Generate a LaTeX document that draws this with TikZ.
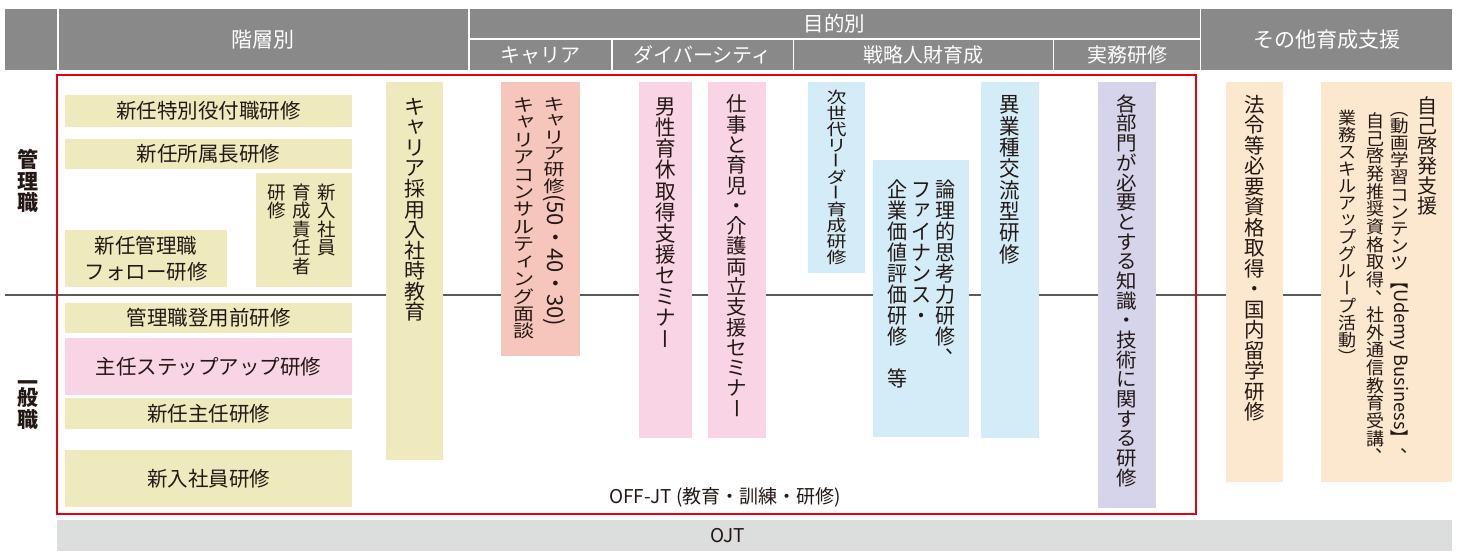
\documentclass[tikz,border=0pt]{standalone}
\usepackage{fontspec}
\usepackage{graphicx}
\usetikzlibrary{calc}
\setmainfont{Noto Sans CJK JP}
\newfontfamily\yoko{Noto Sans CJK JP}
\definecolor{cHdr}{HTML}{898989}
\definecolor{cTan}{HTML}{EFEABD}
\definecolor{cPink}{HTML}{F8D4E4}
\definecolor{cSalmon}{HTML}{F6C6BC}
\definecolor{cBlue}{HTML}{D4EBF8}
\definecolor{cLav}{HTML}{D5D4EB}
\definecolor{cPeach}{HTML}{FCE7CF}
\definecolor{cOjt}{HTML}{DCDDDD}
\definecolor{cRed}{HTML}{E60012}
\definecolor{cLine}{HTML}{595959}
\definecolor{cTxt}{HTML}{231815}
\newcommand\fs[1]{\fontsize{#1}{#1}\selectfont}
% ---- vertical (tategaki) stacking ----
\def\vsy{1}
\def\vsEnd{\vsEnd}
\def\vsloop#1{\def\vsTmp{#1}\ifx\vsTmp\vsEnd\else\vchar{#1}\expandafter\vsloop\fi}
\newcommand\vs[2][1]{\def\vsy{#1}\vtop{\offinterlineskip\vsloop#2\vsEnd}}
\def\vcell#1{\hbox to 1em{\hss\scalebox{1}[\vsy]{\vrule height .88em depth .12em width 0pt\relax#1}\hss}}
\def\vchar#1{\ifcsname vm@\detokenize{#1}\endcsname\csname vm@\detokenize{#1}\endcsname\else\vcell{#1}\fi}
\def\vmap#1#2{\expandafter\def\csname vm@\detokenize{#1}\endcsname{#2}}
\def\vshift#1#2#3{\vcell{\raise#2\hbox{\kern#1#3\kern-#1}}}
\def\vrot#1{\vcell{\rotatebox[origin=c]{-90}{\vrule height .88em depth .12em width 0pt\relax#1}}}
\vmap{ー}{\vrot{ー}}
\vmap{（}{\vrot{（}}
\vmap{）}{\vrot{）}}
\vmap{【}{\vrot{【}}
\vmap{】}{\vrot{】}}
\vmap{、}{\vshift{.5em}{.56em}{、}}
\vmap{ャ}{\vshift{.08em}{.12em}{ャ}}
\vmap{ィ}{\vshift{.08em}{.12em}{ィ}}
\vmap{ッ}{\vshift{.08em}{.12em}{ッ}}
\vmap{ョ}{\vshift{.08em}{.12em}{ョ}}
\vmap{ュ}{\vshift{.08em}{.12em}{ュ}}
\vmap{ァ}{\vshift{.08em}{.12em}{ァ}}
\newcommand\vR[1]{\scalebox{1}[\fpeval{1/\vsy}]{\raisebox{.88em}{\rotatebox{-90}{\yoko #1}}}}
\begin{document}
\begin{tikzpicture}[x=1pt,y=-1pt,
  bx/.style={inner sep=0,outer sep=0,anchor=north west,text=cTxt,align=center},
  vt/.style={anchor=north,inner sep=0,outer sep=0,text=cTxt},
  htxt/.style={text=white,inner sep=0},
]
\useasboundingbox (0,0) rectangle (1463,559);
% header
\fill[cHdr] (5,9) rectangle (57,70);
\fill[cHdr] (58.5,9) rectangle (468,70);
\node[htxt,font=\fs{21}] (hKaiso) at (263,40) {階層別};
\fill[cHdr] (469.5,9) rectangle (1199.5,38.5);
\node[htxt,font=\fs{20.5}] (hMokuteki) at (834.5,24) {目的別};
\fill[cHdr] (469.5,40) rectangle (611,70);
\node[htxt,font=\fs{20}] (hCareer) at (540,55) {キャリア};
\fill[cHdr] (612.5,40) rectangle (792.5,70);
\node[htxt,font=\fs{20}] (hDiv) at (702.5,55) {ダイバーシティ};
\fill[cHdr] (794,40) rectangle (1052.5,70);
\node[htxt,font=\fs{20}] (hSen) at (923,55) {戦略人財育成};
\fill[cHdr] (1054,40) rectangle (1199.5,70);
\node[htxt,font=\fs{20}] (hJit) at (1127,55) {実務研修};
\fill[cHdr] (1201,9) rectangle (1452,70);
\node[htxt,font=\fs{21}] (hSonota) at (1326.5,40) {その他育成支援};

% divider line
\coordinate (dL) at (5,295);
\coordinate (dR) at (1452,295);
\draw[cLine,line width=1.3pt] (dL) -- (dR);

% side labels
\node[text=cTxt,font=\bfseries\fontsize{21}{21.5}\selectfont,align=center] (kanri) at (28,181) {管\\理\\職};
\node[text=cTxt,font=\bfseries\fontsize{21}{21.5}\selectfont,align=center] (ippan) at (28,405) {一\\[-6pt]般\\職};

% left column boxes
\node[bx,fill=cTan,minimum width=287,minimum height=32,font=\fs{20.5}] (b1) at (65,95) {新任特別役付職研修};
\node[bx,fill=cTan,minimum width=287,minimum height=30,font=\fs{20.5}] (b2) at (65,139) {新任所属長研修};
\node[bx,fill=cTan,minimum width=96,minimum height=114] (b3) at (256,173) {};
\node[vt,font=\fs{18.5}] (b3t) at (302,183) {\vs{研修}\hskip6.5pt\vs{育成責任者}\hskip6.5pt\vs{新入社員}};
\node[bx,fill=cTan,minimum width=162,minimum height=57,font=\fontsize{20.5}{26}\selectfont] (b4) at (65,230) {新任管理職\\フォロー研修};
\node[bx,fill=cTan,minimum width=287,minimum height=30,font=\fs{20.5}] (b5) at (65,303) {管理職登用前研修};
\node[bx,fill=cPink,minimum width=287,minimum height=57,font=\fs{20.5}] (b6) at (65,338) {主任ステップアップ研修};
\node[bx,fill=cTan,minimum width=287,minimum height=31,font=\fs{20.5}] (b7) at (65,398) {新任主任研修};
\node[bx,fill=cTan,minimum width=287,minimum height=57,font=\fs{20.5}] (b8) at (65,450) {新入社員研修};

% vertical boxes
\node[bx,fill=cTan,minimum width=57,minimum height=378] (v1) at (386,82) {};
\node[vt,font=\fs{21}] (v1t) at (414.5,96) {\vs[0.98]{キャリア採用入社時教育}};

\node[bx,fill=cSalmon,minimum width=79,minimum height=274] (v2) at (501,82) {};
\node[vt,font=\fs{21}] (v2a) at (554,96) {\vs[0.78]{キャリア研修{\vR{\fs{22}(50・40・30)}}}};
\node[vt,font=\fs{21}] (v2b) at (524,96) {\vs[0.83]{キャリアコンサルティング面談}};

\node[bx,fill=cPink,minimum width=53,minimum height=356] (v3) at (639,82) {};
\node[vt,font=\fs{20.5}] (v3t) at (665.5,96) {\vs[1.03]{男性育休取得支援セミナー}};

\node[bx,fill=cPink,minimum width=58,minimum height=356] (v4) at (708,82) {};
\node[vt,font=\fs{20.5}] (v4t) at (737,94) {\vs[0.99]{仕事と育児・介護両立支援セミナー}};

\node[bx,fill=cBlue,minimum width=57,minimum height=191] (v5) at (808,82) {};
\node[vt,font=\fs{20}] (v5t) at (836.5,89) {\vs[0.8]{次世代リーダー育成研修}};

\node[bx,fill=cBlue,minimum width=96,minimum height=277] (v6) at (873,160) {};
\node[vt,font=\fs{20}] (v6t) at (921,179) {\vs[1.05]{企業価値評価研修　等}\hskip4pt\vs[1.05]{ファイナンス・}\hskip4pt\vs[1.05]{論理的思考力研修、}};

\node[bx,fill=cBlue,minimum width=58,minimum height=356] (v7) at (981,82) {};
\node[vt,font=\fs{20.5}] (v7t) at (1010,94) {\vs[1.04]{異業種交流型研修}};

\node[bx,fill=cLav,minimum width=58,minimum height=426] (v8) at (1098,82) {};
\node[vt,font=\fs{20.5}] (v8t) at (1127,94) {\vs[0.96]{各部門が必要とする知識・技術に関する研修}};

\node[bx,fill=cPeach,minimum width=57,minimum height=400] (v9) at (1226,82) {};
\node[vt,font=\fs{20.5}] (v9t) at (1254.5,94) {\vs[1.0]{法令等必要資格取得・国内留学研修}};

\node[bx,fill=cPeach,minimum width=131,minimum height=400] (v10) at (1321,82) {};
\node[vt,font=\fs{20}] (v10a) at (1427,96) {\vs{自己啓発支援}};
\node[vt,font=\fs{18.5}] (v10b) at (1400,100) {\vs[0.93]{（動画学習コンテンツ【{\vR{\fs{18.3}Udemy Business}}】、}};
\node[vt,font=\fs{18}] (v10c) at (1375,112) {\vs[0.98]{自己啓発推奨資格取得、社外通信教育受講、}};
\node[vt,font=\fs{18}] (v10d) at (1347,109) {\vs[0.95]{業務スキルアップグループ活動）}};

% OFF-JT frame
\node[draw=cRed,line width=2pt,inner sep=0,outer sep=0,anchor=north west,minimum width=1139,minimum height=439] (offjt) at (57,75) {};
\node[text=cTxt,font=\fs{19}] (offjtT) at (725,497) {OFF-JT (教育・訓練・研修)};

% OJT bar
\node[bx,fill=cOjt,minimum width=1395,minimum height=31] (ojt) at (57,520) {};
\node[text=cTxt,font=\fs{19}] (ojtT) at (727.5,535.5) {OJT};
\end{tikzpicture}
\end{document}
